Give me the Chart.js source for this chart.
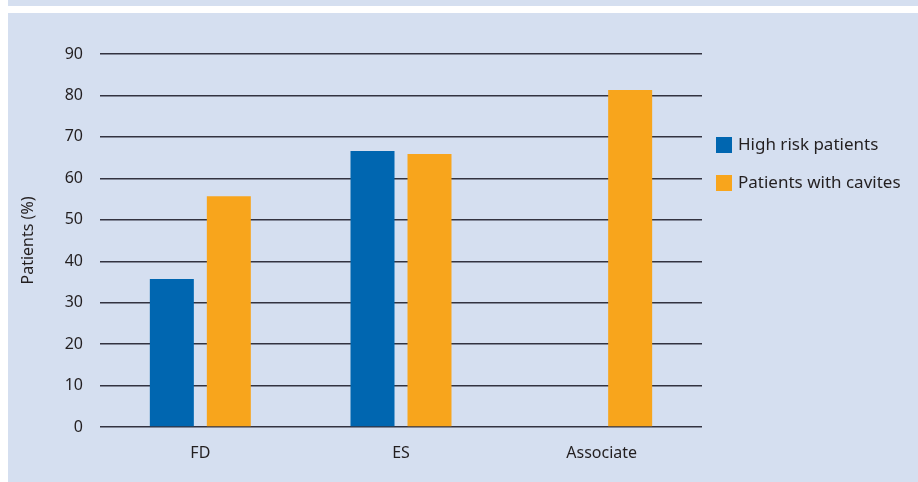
<!DOCTYPE html>
<html>
<head>
<meta charset="utf-8">
<script src="https://cdn.jsdelivr.net/npm/chart.js@4"></script>
<style>
  html, body { margin: 0; padding: 0; background: #fff; }
  body { width: 918px; height: 482px; position: relative; overflow: hidden; }
  .strip { position: absolute; left: 8px; top: 0; width: 910px; height: 6px; background: #d5dff0; }
  .panel { position: absolute; left: 8px; top: 13px; width: 910px; height: 469px; background: #d5dff0; }
  canvas { display: block; }
</style>
</head>
<body>
<div class="strip"></div>
<div class="panel"><canvas id="chart" width="910" height="469"></canvas></div>
<script>
var categories = ["FD", "ES", "Associate"];
var highRisk = [35.7, 66.6, null];
var withCavites = [55.7, 65.9, 81.3];
var yTicks = [0, 10, 20, 30, 40, 50, 60, 70, 80, 90];

var blue = "#0066b0";
var orange = "#f8a51c";
var textColor = "#231f20";
var font = "'Noto Sans', sans-serif";

// legend on the right, drawn by hand
var sideLegend = {
  id: "sideLegend",
  afterDraw: function(chart) {
    var ctx = chart.ctx;
    var x = chart.chartArea.right + 14;
    var y = 132;
    ctx.save();
    ctx.font = "17px " + font;
    ctx.textBaseline = "middle";
    chart.data.datasets.forEach(function(ds, i) {
      var cy = y + i * 38;
      ctx.fillStyle = ds.backgroundColor;
      ctx.fillRect(x, cy - 8, 16, 16);
      ctx.fillStyle = textColor;
      ctx.fillText(ds.label, x + 22, cy);
    });
    ctx.restore();
  }
};

var ctx = document.getElementById("chart").getContext("2d");
new Chart(ctx, {
  type: "bar",
  data: {
    labels: categories,
    datasets: [
      { label: "High risk patients", data: highRisk, backgroundColor: blue },
      { label: "Patients with cavites", data: withCavites, backgroundColor: orange }
    ]
  },
  options: {
    responsive: false,
    animation: false,
    layout: { padding: { top: 41, right: 216, left: 1, bottom: 0 } },
    datasets: { bar: { categoryPercentage: 0.568, barPercentage: 0.772 } },
    plugins: { legend: { display: false }, tooltip: { enabled: false } },
    scales: {
      x: {
        grid: { display: false, drawTicks: false },
        border: { display: false },
        ticks: { color: textColor, font: { family: font, size: 16 }, padding: 17 },
        afterFit: function(scale) { scale.height = 55; }
      },
      y: {
        min: 0,
        max: 90,
        afterBuildTicks: function(scale) {
          scale.ticks = yTicks.map(function(v) { return { value: v }; });
        },
        grid: { color: "#333340", lineWidth: 1.4, drawTicks: false },
        border: { display: false },
        ticks: { color: textColor, font: { family: font, size: 16 }, padding: 17 },
        title: {
          display: true,
          text: "Patients (%)",
          color: textColor,
          font: { family: font, size: 16 },
          padding: { top: 10, bottom: 0 }
        },
        afterFit: function(scale) { scale.width = 91; }
      }
    }
  },
  plugins: [sideLegend]
});
</script>
</body>
</html>
